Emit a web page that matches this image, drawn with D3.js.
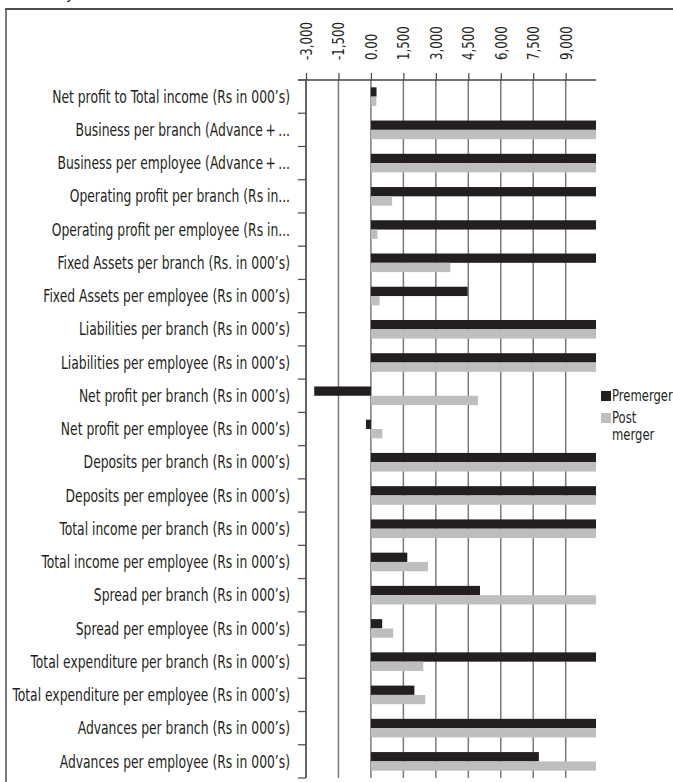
<!DOCTYPE html>
<html>
<head>
<meta charset="utf-8">
<script src="https://cdn.jsdelivr.net/npm/d3@7"></script>
<style>
  html, body { margin: 0; padding: 0; background: #fff; }
  svg { display: block; }
  text { font-family: "DejaVu Sans Condensed", "Liberation Sans Narrow", sans-serif; fill: #231f20; }
</style>
</head>
<body>
<svg id="chart" width="673" height="782"></svg>
<script>
// Bank ratios before and after the merger (Rs in 000's where stated)
const categories = [
  "Net profit to Total income (Rs in 000\u2019s)",
  "Business per branch (Advance\u2009+\u2009...",
  "Business per employee (Advance\u2009+\u2009...",
  "Operating profit per branch (Rs in...",
  "Operating profit per employee (Rs in...",
  "Fixed Assets per branch (Rs. in 000\u2019s)",
  "Fixed Assets per employee (Rs in 000\u2019s)",
  "Liabilities per branch (Rs in 000\u2019s)",
  "Liabilities per employee (Rs in 000\u2019s)",
  "Net profit per branch (Rs in 000\u2019s)",
  "Net profit per employee (Rs in 000\u2019s)",
  "Deposits per branch (Rs in 000\u2019s)",
  "Deposits per employee (Rs in 000\u2019s)",
  "Total income per branch (Rs in 000\u2019s)",
  "Total income per employee (Rs in 000\u2019s)",
  "Spread per branch (Rs in 000\u2019s)",
  "Spread per employee (Rs in 000\u2019s)",
  "Total expenditure per branch (Rs in 000\u2019s)",
  "Total expenditure per employee (Rs in 000\u2019s)",
  "Advances per branch (Rs in 000\u2019s)",
  "Advances per employee (Rs in 000\u2019s)"
];

const premerger = [
  260, 61500, 24000, 15500, 11200, 12800, 4470, 52300, 20600, -2620, -230,
  31200, 12400, 18700, 1680, 5040, 520, 17100, 2010, 28300, 7760
];

const postMerger = [
  250, 74800, 28500, 980, 300, 3670, 400, 64100, 24300, 4950, 530,
  39600, 15100, 23100, 2640, 10900, 1030, 2420, 2510, 35200, 12300
];

const seriesNames = ["Premerger", "Post merger"];
const seriesColors = ["#231f20", "#bcbec0"];
const tickValues = [-3000, -1500, 0, 1500, 3000, 4500, 6000, 7500, 9000];
const tickLabels = ["-3,000", "-1,500", "0.00", "1,500", "3,000", "4,500", "6,000", "7,500", "9,000"];
const axisMin = -3000, axisMax = 10400;

const svg = d3.select("#chart");

// narrow the condensed face further, the way a condensed humanist type sets
function squeeze(sel, target) {
  const w = sel.node().getComputedTextLength();
  return target / w;
}

// outer frame (top and left rules)
svg.append("text").attr("x", 66).attr("y", -1).attr("font-size", 16).text("y");
svg.append("line").attr("x1", 5).attr("x2", 673).attr("y1", 9).attr("y2", 9)
  .attr("stroke", "#4d4d4d").attr("stroke-width", 2);
svg.append("line").attr("x1", 6).attr("x2", 6).attr("y1", 9).attr("y2", 782)
  .attr("stroke", "#4d4d4d").attr("stroke-width", 1.5);

const plot = { left: 306, right: 596, top: 80, bottom: 778 };

const x = d3.scaleLinear().domain([axisMin, axisMax]).range([plot.left, plot.right]).clamp(true);
const y = d3.scaleBand().domain(categories).range([plot.top, plot.bottom])
  .paddingInner(0.44).paddingOuter(0.22);
const ySub = d3.scaleBand().domain(seriesNames).range([0, y.bandwidth()]);

// vertical gridlines
svg.append("g").selectAll("line").data(tickValues).join("line")
  .attr("x1", d => x(d)).attr("x2", d => x(d))
  .attr("y1", plot.top).attr("y2", plot.bottom)
  .attr("stroke", "#7a7a7a").attr("stroke-width", 1.5);

// value axis along the top
const xAxis = d3.axisTop(x).tickValues(tickValues).tickSize(7)
  .tickFormat((d, i) => tickLabels[i]);
const gx = svg.append("g").attr("transform", `translate(0,${plot.top})`).call(xAxis);
gx.select(".domain").remove();
gx.selectAll(".tick line").attr("stroke", "#444").attr("stroke-width", 1.2);
const tickText = gx.selectAll(".tick text")
  .attr("font-size", 15)
  .attr("text-anchor", "start")
  .attr("x", 0).attr("y", 0).attr("dy", "0.36em");
const tickScale = squeeze(tickText.filter((d, i) => i === 0), 38);
tickText.attr("transform", `translate(0,-20) rotate(-90) scale(${tickScale},1)`);

svg.append("line").attr("x1", plot.left - 8).attr("x2", plot.right)
  .attr("y1", plot.top).attr("y2", plot.top)
  .attr("stroke", "#444").attr("stroke-width", 1.3);

// category axis with ticks between categories
const step = y.step();
const bounds = d3.range(categories.length + 1).map(i => plot.top + i * step);
svg.append("g").selectAll("line").data(bounds).join("line")
  .attr("x1", plot.left - 8).attr("x2", plot.left)
  .attr("y1", d => d).attr("y2", d => d)
  .attr("stroke", "#555").attr("stroke-width", 1.3);
svg.append("line").attr("x1", plot.left).attr("x2", plot.left)
  .attr("y1", plot.top).attr("y2", plot.bottom)
  .attr("stroke", "#555").attr("stroke-width", 1.5);

const catText = svg.append("g").selectAll("text").data(categories).join("text")
  .attr("x", 0)
  .attr("y", 0)
  .attr("dy", "0.36em")
  .attr("text-anchor", "end")
  .attr("font-size", 17)
  .text(d => d);
const labelScale = squeeze(catText.filter((d, i) => i === 0), 238);
catText.attr("transform", d => `translate(290,${y(d) + y.bandwidth() / 2}) scale(${labelScale},1)`);

// bars
const rows = categories.map((c, i) => ({ c, vals: [premerger[i], postMerger[i]] }));
const groups = svg.append("g").selectAll("g").data(rows).join("g")
  .attr("transform", d => `translate(0,${y(d.c)})`);
groups.selectAll("rect")
  .data(d => d.vals.map((v, k) => ({ v, k })))
  .join("rect")
  .attr("x", d => x(Math.min(0, d.v)))
  .attr("width", d => Math.abs(x(d.v) - x(0)))
  .attr("y", d => ySub(seriesNames[d.k]))
  .attr("height", ySub.bandwidth())
  .attr("fill", d => seriesColors[d.k]);

// legend
const legend = svg.append("g");
const legendItems = [
  { y: 391, color: seriesColors[0], lines: ["Premerger"] },
  { y: 413, color: seriesColors[1], lines: ["Post", "merger"] }
];
legendItems.forEach(item => {
  legend.append("rect").attr("x", 601).attr("y", item.y).attr("width", 10).attr("height", 10).attr("fill", item.color);
  item.lines.forEach((line, j) => {
    legend.append("text")
      .attr("font-size", 16)
      .attr("transform", `translate(612,${item.y + 10 + j * 17}) scale(${labelScale},1)`)
      .text(line);
  });
});
</script>
</body>
</html>
